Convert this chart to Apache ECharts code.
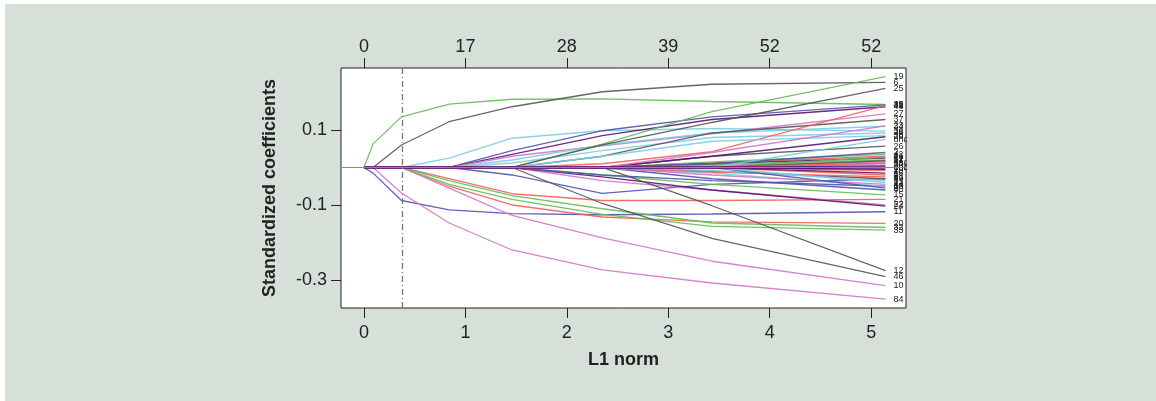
<!DOCTYPE html>
<html>
<head>
<meta charset="utf-8">
<script src="https://cdn.jsdelivr.net/npm/echarts@6/dist/echarts.min.js"></script>
<style>
html, body { margin: 0; padding: 0; background: #fff; }
#main { position: absolute; left: 5px; top: 4px; width: 1151px; height: 397px; }
</style>
</head>
<body>
<div id="main"></div>
<script>
// L1 norm at each knot of the lasso path
var knots = [0, 0.09, 0.37, 0.84, 1.46, 2.35, 3.43, 5.14];
var bottomTicks = [0, 1, 2, 3, 4, 5];
var topLabels = ['0', '17', '28', '39', '52', '52'];
var yTicks = [-0.3, -0.1, 0.1];
var lambdaMin = 0.38;

// coefficient paths, grouped by where the variable enters
var pathsEnter0 = [
    [0, 0.063, 0.135, 0.169, 0.182, 0.183, 0.176, 0.168],
    [0, 0, 0.06, 0.122, 0.162, 0.202, 0.222, 0.227],
    [0, -0.015, -0.088, -0.113, -0.123, -0.126, -0.124, -0.118],
    [0, 0, -0.068, -0.148, -0.22, -0.273, -0.308, -0.351]
];
var pathsEnter037 = [
    [0, 0, 0, -0.03, -0.07, -0.088, -0.088, -0.085],
    [0, 0, 0, -0.05, -0.1, -0.132, -0.145, -0.149],
    [0, 0, 0, -0.035, -0.075, -0.11, -0.148, -0.16],
    [0, 0, 0, -0.045, -0.085, -0.125, -0.157, -0.167],
    [0, 0, 0, -0.055, -0.128, -0.188, -0.25, -0.315],
    [0, 0, 0, 0.025, 0.078, 0.098, 0.104, 0.097]
];
var pathsEnter084 = [
    [0, 0, 0, 0, 0.045, 0.098, 0.135, 0.167],
    [0, 0, 0, 0, 0.035, 0.085, 0.128, 0.162],
    [0, 0, 0, 0, 0.03, 0.058, 0.09, 0.143],
    [0, 0, 0, 0, -0.02, -0.069, -0.045, -0.03],
    [0, 0, 0, 0, 0.02, 0.06, 0.092, 0.11],
    [0, 0, 0, 0, 0.012, 0.045, 0.08, 0.092]
];
var pathsEnter146 = [
    [0, 0, 0, 0, 0, 0.062, 0.149, 0.242],
    [0, 0, 0, 0, 0, 0.06, 0.12, 0.211],
    [0, 0, 0, 0, 0, 0.03, 0.092, 0.128],
    [0, 0, 0, 0, 0, -0.035, -0.06, -0.1],
    [0, 0, 0, 0, 0, -0.025, -0.06, -0.103],
    [0, 0, 0, 0, 0, -0.02, -0.045, -0.073],
    [0, 0, 0, 0, 0, -0.096, -0.189, -0.291],
    [0, 0, 0, 0, 0, 0.01, 0.042, 0.165],
    [0, 0, 0, 0, 0, -0.02, -0.035, -0.05],
    [0, 0, 0, 0, 0, 0.03, 0.07, 0.085]
];
var pathsEnter235 = [
    [0, 0, 0, 0, 0, 0, -0.102, -0.275],
    [0, 0, 0, 0, 0, 0, 0.03, 0.057],
    [0, 0, 0, 0, 0, 0, 0.03, 0.082],
    [0, 0, 0, 0, 0, 0, 0.04, 0.111],
    [0, 0, 0, 0, 0, 0, -0.03, -0.06],
    [0, 0, 0, 0, 0, 0, 0.012, 0.03],
    [0, 0, 0, 0, 0, 0, 0.015, 0.035],
    [0, 0, 0, 0, 0, 0, -0.015, -0.05],
    [0, 0, 0, 0, 0, 0, -0.02, -0.045],
    [0, 0, 0, 0, 0, 0, 0.01, 0.025],
    [0, 0, 0, 0, 0, 0, -0.01, -0.03],
    [0, 0, 0, 0, 0, 0, -0.012, -0.025],
    [0, 0, 0, 0, 0, 0, 0.008, 0.02],
    [0, 0, 0, 0, 0, 0, 0.01, 0.04],
    [0, 0, 0, 0, 0, 0, -0.008, -0.035],
    [0, 0, 0, 0, 0, 0, 0.005, 0.015]
];
var pathsEnter343 = [
    [0, 0, 0, 0, 0, 0, 0, -0.02],
    [0, 0, 0, 0, 0, 0, 0, 0.028],
    [0, 0, 0, 0, 0, 0, 0, -0.055],
    [0, 0, 0, 0, 0, 0, 0, -0.04],
    [0, 0, 0, 0, 0, 0, 0, 0.01],
    [0, 0, 0, 0, 0, 0, 0, -0.015],
    [0, 0, 0, 0, 0, 0, 0, 0.018],
    [0, 0, 0, 0, 0, 0, 0, -0.008],
    [0, 0, 0, 0, 0, 0, 0, 0.005],
    [0, 0, 0, 0, 0, 0, 0, -0.005],
    [0, 0, 0, 0, 0, 0, 0, 0.075],
    [0, 0, 0, 0, 0, 0, 0, 0.012],
    [0, 0, 0, 0, 0, 0, 0, 0],
    [0, 0, 0, 0, 0, 0, 0, 0]
];

// variable numbers shown at the right end of each path
var varIds = [
    39, 6, 11, 84,
    21, 20, 32, 33, 10, 36,
    45, 48, 27, 9, 34, 28,
    19, 25, 37, 22, 24, 15, 46, 31, 50, 38,
    12, 26, 29, 23, 40, 41, 42, 43, 44, 47, 49, 51, 52, 2,
    3, 4, 5, 7, 8, 13, 14, 16, 17, 18, 30, 1
];
// k black, r red, g green, b blue, c cyan, m magenta, p purple
var colorKeys = [
    'g', 'k', 'b', 'm',
    'r', 'r', 'g', 'g', 'm', 'c',
    'b', 'p', 'm', 'b', 'c', 'c',
    'g', 'k', 'k', 'm', 'p', 'g', 'k', 'r', 'b', 'c',
    'k', 'k', 'p', 'm', 'b', 'r', 'g', 'c', 'm', 'p', 'k', 'r', 'g', 'b', 'c', 'm',
    'r', 'g', 'b', 'c', 'm', 'p', 'k', 'r', 'b', 'p', 'c', 'r', 'p', 'p'
];

var palette = {
    k: '#555555', r: '#f0605c', g: '#62bd55', b: '#5252ad',
    c: '#7acde2', m: '#d474c8', p: '#5a1470'
};

var allPaths = [].concat(pathsEnter0, pathsEnter037, pathsEnter084,
    pathsEnter146, pathsEnter235, pathsEnter343);

var fontFamily = '"Liberation Sans", Arial, sans-serif';
var seriesList = [];

allPaths.forEach(function (path, i) {
    var flat = path.every(function (v) { return v === 0; });
    seriesList.push({
        type: 'line',
        name: String(varIds[i]),
        data: knots.map(function (x, k) { return [x, path[k]]; }),
        showSymbol: false,
        silent: true,
        lineStyle: { color: palette[colorKeys[i]], width: flat ? 2 : 1.3, opacity: 0.9 },
        endLabel: {
            show: true,
            formatter: function (p) { return p.seriesName; },
            fontFamily: fontFamily,
            fontSize: 9,
            color: '#222',
            distance: 8
        },
        labelLayout: { hideOverlap: false }
    });
});

// reference lines: zero line and the lambda.min cut
seriesList.push({
    type: 'line',
    data: [],
    silent: true,
    markLine: {
        silent: true,
        symbol: 'none',
        label: { show: false },
        data: [
            { yAxis: 0, lineStyle: { color: '#8a8a8a', type: 'solid', width: 1.2 } },
            { xAxis: lambdaMin, lineStyle: { color: '#777', type: [6, 3, 1, 3], width: 1.3 } }
        ]
    },
    z: 1
});

var chart = echarts.init(document.getElementById('main'));
chart.setOption({
    backgroundColor: '#d6e0d9',
    animation: false,
    grid: {
        left: 336, top: 64, width: 565, height: 240,
        show: true, backgroundColor: '#fff',
        borderColor: '#222', borderWidth: 1
    },
    xAxis: [
        {
            type: 'value', min: -0.226, max: 5.343,
            name: 'L1 norm', nameLocation: 'middle', nameGap: 43,
            nameTextStyle: { fontFamily: fontFamily, fontSize: 18, fontWeight: 'bold', color: '#222' },
            axisLine: { show: false, onZero: false },
            splitLine: { show: false },
            axisTick: { show: true, inside: false, length: 10, customValues: bottomTicks, lineStyle: { color: '#222' } },
            axisLabel: { customValues: bottomTicks, margin: 16, fontFamily: fontFamily, fontSize: 18, color: '#222' }
        },
        {
            type: 'value', position: 'top', min: -0.226, max: 5.343,
            axisLine: { show: false, onZero: false },
            splitLine: { show: false },
            axisTick: { show: true, inside: false, length: 10, customValues: bottomTicks, lineStyle: { color: '#222' } },
            axisLabel: {
                customValues: bottomTicks, margin: 12, fontFamily: fontFamily, fontSize: 18, color: '#222',
                formatter: function (v) { return topLabels[Math.round(v)]; }
            }
        }
    ],
    yAxis: {
        type: 'value', min: -0.3747, max: 0.2653,
        name: 'Standardized coefficients', nameLocation: 'middle', nameGap: 62,
        nameTextStyle: { fontFamily: fontFamily, fontSize: 18, fontWeight: 'bold', color: '#222' },
        axisLine: { show: false, onZero: false },
        splitLine: { show: false },
        axisTick: { show: true, inside: false, length: 10, customValues: yTicks, lineStyle: { color: '#222' } },
        axisLabel: { customValues: yTicks, margin: 14, fontFamily: fontFamily, fontSize: 18, color: '#222' }
    },
    graphic: [
        {
            type: 'rect', z: 100,
            shape: { x: 902, y: 58, width: 30, height: 252 },
            style: { fill: '#d6e0d9' }
        }
    ],
    series: seriesList
});
</script>
</body>
</html>
